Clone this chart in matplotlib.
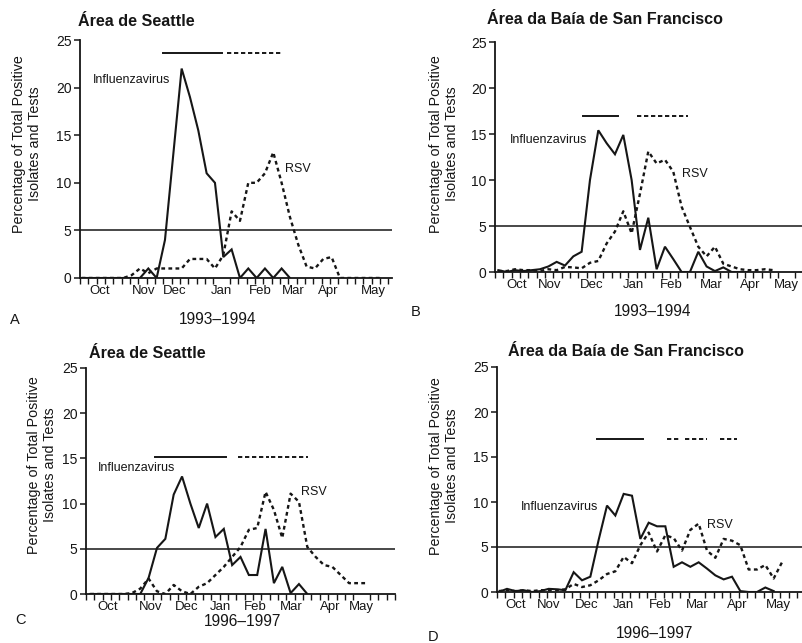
import matplotlib
matplotlib.use('Agg')
import matplotlib.pyplot as plt
import numpy as np

plt.rcParams['font.family'] = ['Liberation Sans', 'DejaVu Sans']

# ---------------- data ----------------
months = ['Oct', 'Nov', 'Dec', 'Jan', 'Feb', 'Mar', 'Apr', 'May']

titles = ['Área de Seattle', 'Área da Baía de San Francisco',
          'Área de Seattle', 'Área da Baía de San Francisco']
seasons = ['1993–1994', '1993–1994', '1996–1997', '1996–1997']
letters = ['A', 'B', 'C', 'D']

# weekly percentages (index = week since start of October)
flu_A = [0, 0, 0, 0, 0, 0, 0, 0, 1, 0, 4, 13, 22, 19, 15.5, 11, 10, 2.2, 3, 0,
         1, 0, 1, 0, 1, 0]
rsv_A = [0, 0, 0, 0, 0, 0, 0.3, 1.0, 0.5, 1, 1, 1, 1, 2, 2, 2, 1, 2.4, 7, 6,
         10, 10, 11, 13.2, 10, 6.4, 3.5, 1.2, 1, 2, 2.2, 0, 0, 0, 0, 0, 0]

flu_B = [0.2, 0.0, 0.2, 0.1, 0.2, 0.3, 0.6, 1.1, 0.7, 1.7, 2.2, 10, 15.4, 14,
         12.8, 14.9, 10, 2.4, 5.9, 0.3, 2.75, 1.4, 0, 0, 2.2, 0.6, 0.1, 0.5,
         0, 0, 0]
rsv_B = [0.1, 0.1, 0.3, 0.2, 0.2, 0.1, 0.3, 0.2, 0.55, 0.5, 0.4, 1.0, 1.2, 3.1,
         4.4, 6.6, 4.2, 8.5, 13.1, 11.8, 12.2, 10.9, 7.1, 4.9, 2.75, 1.7, 2.75,
         0.9, 0.6, 0.3, 0.2, 0.2, 0.3, 0.2]

flu_C = [0, 0, 0, 0, 0, 0, 0, 1.8, 5.1, 6.1, 11, 13, 10, 7.3, 10, 6.3, 7.2,
         3.2, 4.1, 2.1, 2.1, 7.2, 1.2, 3.0, 0.1, 1.1, 0]
rsv_C = [0, 0, 0, 0, 0, 0.1, 0.6, 1.7, 0.3, 0, 1.0, 0.3, 0, 0.8, 1.2, 2.1, 3.0,
         4.1, 5.2, 7.1, 7.3, 11.3, 9.3, 6.2, 11.1, 10.2, 5.2, 4.1, 3.2, 3.0,
         2.1, 1.2, 1.2, 1.2]

flu_D = [0, 0.35, 0.1, 0.2, 0, 0.1, 0.35, 0.3, 0.2, 2.2, 1.3, 1.7, 5.8, 9.6,
         8.5, 10.9, 10.7, 5.9, 7.7, 7.3, 7.3, 2.8, 3.3, 2.8, 3.3, 2.6, 1.85,
         1.4, 1.7, 0.1, 0, 0, 0.5, 0.1]
rsv_D = [0.1, 0.2, 0.1, 0.2, 0.1, 0.2, 0.2, 0.2, 0.3, 0.9, 0.55, 0.75, 1.3, 2.0,
         2.3, 3.9, 3.2, 5.2, 6.6, 4.5, 6.3, 6.0, 4.6, 6.9, 7.6, 4.6, 3.8, 5.9,
         5.7, 5.2, 2.5, 2.5, 3.0, 1.5, 3.3]

# month label positions (in weeks) for each panel
month_pos_A = [2.2, 7.4, 11.2, 16.8, 21.4, 25.4, 29.6, 35.0]
month_pos_B = [2.2, 6.2, 11.2, 16.2, 20.8, 25.6, 30.2, 34.6]
month_pos_C = [2.1, 7.2, 11.6, 15.55, 19.75, 24.1, 28.7, 32.5]
month_pos_D = [2.0, 6.0, 10.6, 15.0, 19.4, 23.8, 28.6, 33.6]

# epidemic periods (start week, end week) and level
flu_period_A = [(9.8, 16.8)]
rsv_period_A = [(17.4, 24.2)]
flu_period_B = [(10.2, 14.4)]
rsv_period_B = [(16.6, 22.8)]
flu_period_C = [(7.8, 16.3)]
rsv_period_C = [(17.7, 21.4), (21.7, 26.1)]
flu_period_D = [(11.8, 17.3)]
rsv_period_D = [(20.2, 21.8), (22.4, 25.0), (26.6, 28.6)]
period_level = [23.6, 17.0, 15.1, 17.0]

threshold = 5

# label anchor (week, value)
flu_lab = [(1.4, 20.8), (1.36, 14.3), (0.98, 13.9), (2.64, 9.4)]
rsv_lab = [(24.45, 11.5), (22.0, 10.7), (25.3, 11.3), (24.97, 7.5)]

# ---------------- layout ----------------
W, H = 802, 643
fig = plt.figure(figsize=(W / 100, H / 100), dpi=100)
INK = '#161616'

boxes = [(80, 40, 392, 278), (495, 42, 802, 272),
         (86, 368, 395, 594), (497, 367, 802, 592)]
xlims = [(-0.2, 37.25), (-0.4, 36.45), (-0.5, 36.5), (-0.2, 36.4)]
title_xy = [(78, 22), (487, 20), (89, 354), (508, 351)]
ylab_xy = [(27, 144), (444, 144), (42, 465), (444, 466)]
season_xy = [(218, 319), (653, 312), (243, 622), (655, 633)]
letter_xy = [(15, 320), (416, 312), (20, 620), (433, 637)]

flus = [flu_A, flu_B, flu_C, flu_D]
rsvs = [rsv_A, rsv_B, rsv_C, rsv_D]
mpos = [month_pos_A, month_pos_B, month_pos_C, month_pos_D]
fper = [flu_period_A, flu_period_B, flu_period_C, flu_period_D]
rper = [rsv_period_A, rsv_period_B, rsv_period_C, rsv_period_D]


def fx(x):
    return x / W


def fy(y):
    return 1 - y / H


for i in range(4):
    l, t, r, b = boxes[i]
    ax = fig.add_axes([fx(l), fy(b), (r - l) / W, (b - t) / H])
    ax.set_facecolor('none')
    x0, x1 = xlims[i]
    ax.set_xlim(x0, x1)
    ax.set_ylim(0, 25)
    for s in ['top', 'right']:
        ax.spines[s].set_visible(False)
    for s in ['left', 'bottom']:
        ax.spines[s].set_linewidth(1.3)
        ax.spines[s].set_color(INK)

    f = np.array(flus[i])
    rv = np.array(rsvs[i])
    ax.plot(np.arange(len(f)), f, color=INK, lw=1.5, solid_joinstyle='miter')
    ax.plot(np.arange(len(rv)), rv, color=INK, lw=1.7,
            linestyle=(0, (1.6, 1.4)))
    ax.axhline(threshold, color=INK, lw=1.1)

    lev = period_level[i]
    for a, e in fper[i]:
        ax.plot([a, e], [lev, lev], color=INK, lw=1.4)
    for a, e in rper[i]:
        ax.plot([a, e], [lev, lev], color=INK, lw=1.4,
                linestyle=(0, (2.2, 1.4)))

    ax.text(flu_lab[i][0], flu_lab[i][1], 'Influenzavirus', fontsize=9,
            color=INK, ha='left', va='center')
    ax.text(rsv_lab[i][0], rsv_lab[i][1], 'RSV', fontsize=9,
            color=INK, ha='left', va='center')

    ax.set_yticks([0, 5, 10, 15, 20, 25])
    ax.tick_params(axis='y', direction='out', length=4, width=1.1,
                   labelsize=10, colors=INK, pad=2)
    wk = np.arange(0, 40)
    wk = wk[x0 + wk <= x1]
    ax.set_xticks(x0 + wk, minor=True)
    ax.set_xticks(mpos[i])
    ax.set_xticklabels(months)
    ax.tick_params(axis='x', which='minor', direction='out', length=4,
                   width=1.0, colors=INK)
    ax.tick_params(axis='x', which='major', length=0, labelsize=9.5,
                   colors=INK, pad=5)

    fig.text(fx(title_xy[i][0]), fy(title_xy[i][1]), titles[i],
             fontsize=11.6, fontweight='bold', color=INK,
             ha='left', va='center')
    fig.text(fx(ylab_xy[i][0]), fy(ylab_xy[i][1]),
             'Percentage of Total Positive\nIsolates and Tests',
             fontsize=10.3, rotation=90, ha='center', va='center',
             color=INK, linespacing=1.12)
    fig.text(fx(season_xy[i][0]), fy(season_xy[i][1]), seasons[i],
             fontsize=11.2, ha='center', va='center', color=INK)
    fig.text(fx(letter_xy[i][0]), fy(letter_xy[i][1]), letters[i],
             fontsize=10.5, ha='center', va='center', color=INK)

fig.savefig('out.png', dpi=100, facecolor='white')
